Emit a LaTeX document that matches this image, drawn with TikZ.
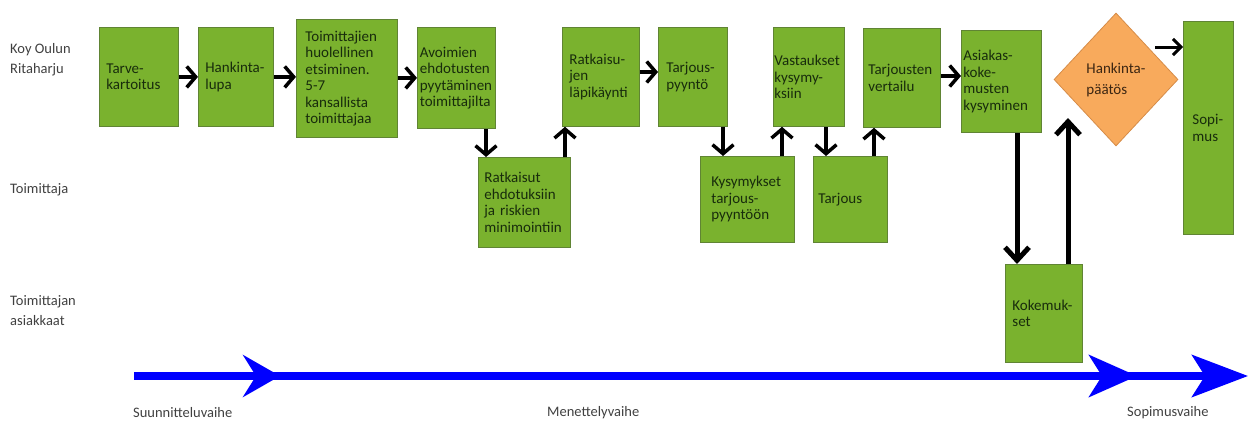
\documentclass[tikz,border=0pt]{standalone}
\usepackage{fontspec}
\setmainfont{Carlito}
\usetikzlibrary{arrows.meta,shapes.geometric,calc}
\definecolor{boxgreen}{RGB}{122,178,46}
\definecolor{boxedge}{RGB}{96,132,52}
\definecolor{boxtext}{RGB}{24,44,12}
\definecolor{labgray}{RGB}{64,64,64}
\definecolor{dfill}{RGB}{248,170,92}
\definecolor{dedge}{RGB}{214,140,72}
\definecolor{dtext}{RGB}{60,38,18}
\hyphenpenalty=10000
\begin{document}
\begin{tikzpicture}[x=1pt,y=-1pt,
  box/.style={draw=boxedge, fill=boxgreen, line width=0.8pt, inner ysep=0pt,
    align=left, text=boxtext, anchor=north west,
    font=\fontsize{15}{16.5}\selectfont},
  lab/.style={anchor=west, align=left, inner sep=0pt, text=labgray,
    font=\fontsize{14.5}{20}\selectfont},
  arr/.style={line width=3.5pt, -{Straight Barb[length=9pt,width=21pt]}},
  arrl/.style={line width=5pt, -{Straight Barb[length=13pt,width=24pt]}},
  arrs/.style={line width=3pt, -{Straight Barb[length=8pt,width=16pt]}},
  bline/.style={draw=blue, line width=7.5pt},
  bhead/.style={draw=blue, line width=7.5pt, -{Stealth[length=#1,width=42pt,inset=13pt]}}
]
\useasboundingbox (0,0) rectangle (1250,426);

% lane labels
\node[lab] (l1) at (10,60) {Koy Oulun\\Ritaharju};
\node[lab] (l2) at (10,190) {Toimittaja};
\node[lab] (l3) at (10,311) {Toimittajan\\asiakkaat};

% boxes
\node[box, inner xsep=7pt, minimum width=79, minimum height=99, text width=65pt] (tarve) at (99,27) {Tarve-\\kartoitus};
\node[box, inner xsep=7pt, minimum width=75, minimum height=99, text width=61pt] (hank) at (198,27) {Hankinta-\\lupa};
\node[box, inner xsep=9pt, minimum width=101, minimum height=118, text width=83pt] (toim) at (296,19) {Toimittajien\\huolellinen\\etsiminen.\\5-7\\kansallista\\toimittajaa};
\node[box, inner xsep=2.5pt, minimum width=78, minimum height=101, text width=73pt] (avo) at (417,27) {Avoimien\\ehdotusten\\pyytäminen\\toimittajilta};
\node[box, inner xsep=6pt, minimum width=92, minimum height=90, text width=80pt] (ratk) at (478,157) {Ratkaisut\\ehdotuksiin\\ja riskien\\minimointiin};
\node[box, inner xsep=7pt, minimum width=77, minimum height=99, text width=63pt] (ratkl) at (562,27) {Ratkaisu-\\jen\\läpikäynti};
\node[box, inner xsep=8pt, minimum width=69, minimum height=99, text width=53pt] (tpy) at (658,27) {Tarjous-\\pyyntö};
\node[box, inner xsep=11pt, minimum width=94, minimum height=86, text width=72pt] (kys) at (700,156) {Kysymykset\\tarjous-\\pyyntöön};
\node[box, inner xsep=1pt, minimum width=71, minimum height=99, text width=69pt] (vast) at (773,27) {Vastaukset\\kysymy-\\ksiin};
\node[box, inner xsep=5pt, minimum width=74, minimum height=86, text width=64pt] (tarj) at (813,156) {Tarjous};
\node[box, inner xsep=5pt, minimum width=77, minimum height=99, text width=67pt] (vert) at (863,28) {Tarjousten\\vertailu};
\node[box, inner xsep=2pt, minimum width=80, minimum height=102, text width=76pt] (asi) at (961,30) {Asiakas-\\koke-\\musten\\kysyminen};
\node[box, inner xsep=7pt, minimum width=77, minimum height=98, text width=63pt] (koke) at (1005,264) {Kokemuk-\\set};
\node[box, inner xsep=9pt, minimum width=50, minimum height=213, text width=32pt] (sopi) at (1183,21) {Sopi-\\mus};
\node[diamond, draw=dedge, fill=dfill, line width=0.8pt, inner sep=0pt,
  minimum width=124, minimum height=133, align=left, text=dtext,
  font=\fontsize{15}{21}\selectfont] (dec) at (1116,79.5) {Hankinta-\\päätös};

% helper coordinates
\coordinate (c1) at (486,0);
\coordinate (c2) at (565,0);
\coordinate (c3) at (723,0);
\coordinate (c4) at (782,0);
\coordinate (c5) at (826,0);
\coordinate (c6) at (874,0);
\coordinate (c7) at (1017,0);
\coordinate (kup) at (1068,118);
\coordinate (y6) at (0,72);
\coordinate (y11) at (0,76);
\coordinate (ds) at (1155,47);

% black arrows
\draw[arr] (tarve.east) -- (hank.west);
\draw[arr] (hank.east) -- (hank.east -| toim.west);
\draw[arr] (avo.west -| toim.east) -- (avo.west);
\draw[arr] (avo.south -| c1) -- (ratk.north -| c1);
\draw[arr] (ratk.north -| c2) -- (ratkl.south -| c2);
\draw[arr] (ratkl.east |- y6) -- (tpy.west |- y6);
\draw[arr] (tpy.south -| c3) -- (kys.north -| c3);
\draw[arr] (kys.north -| c4) -- (vast.south -| c4);
\draw[arr] (vast.south -| c5) -- (tarj.north -| c5);
\draw[arr] (tarj.north -| c6) -- (vert.south -| c6);
\draw[arr] (vert.east |- y11) -- (asi.west |- y11);
\draw[arrl] (asi.south -| c7) -- (koke.north -| c7);
\draw[arrl] (koke.north -| kup) -- (kup);
\draw[arrs] (ds) -- (ds -| sopi.west);

% timeline
\coordinate (b0) at (134,376);
\coordinate (b1) at (280,376);
\coordinate (b2) at (1137,376);
\coordinate (b3) at (1248,376);
\coordinate (a1) at (230,376);
\coordinate (a2) at (1080,376);
\coordinate (a3) at (1200,376);
\draw[bline] (b0) -- (a3);
\draw[bhead=37pt] (a1) -- (b1);
\draw[bhead=48pt] (a2) -- (b2);
\draw[bhead=56pt] (a3) -- (b3);

\node[lab] (p1) at (133,413) {Suunnitteluvaihe};
\node[lab] (p2) at (547,413) {Menettelyvaihe};
\node[lab] (p3) at (1127,413) {Sopimusvaihe};
\end{tikzpicture}
\end{document}
